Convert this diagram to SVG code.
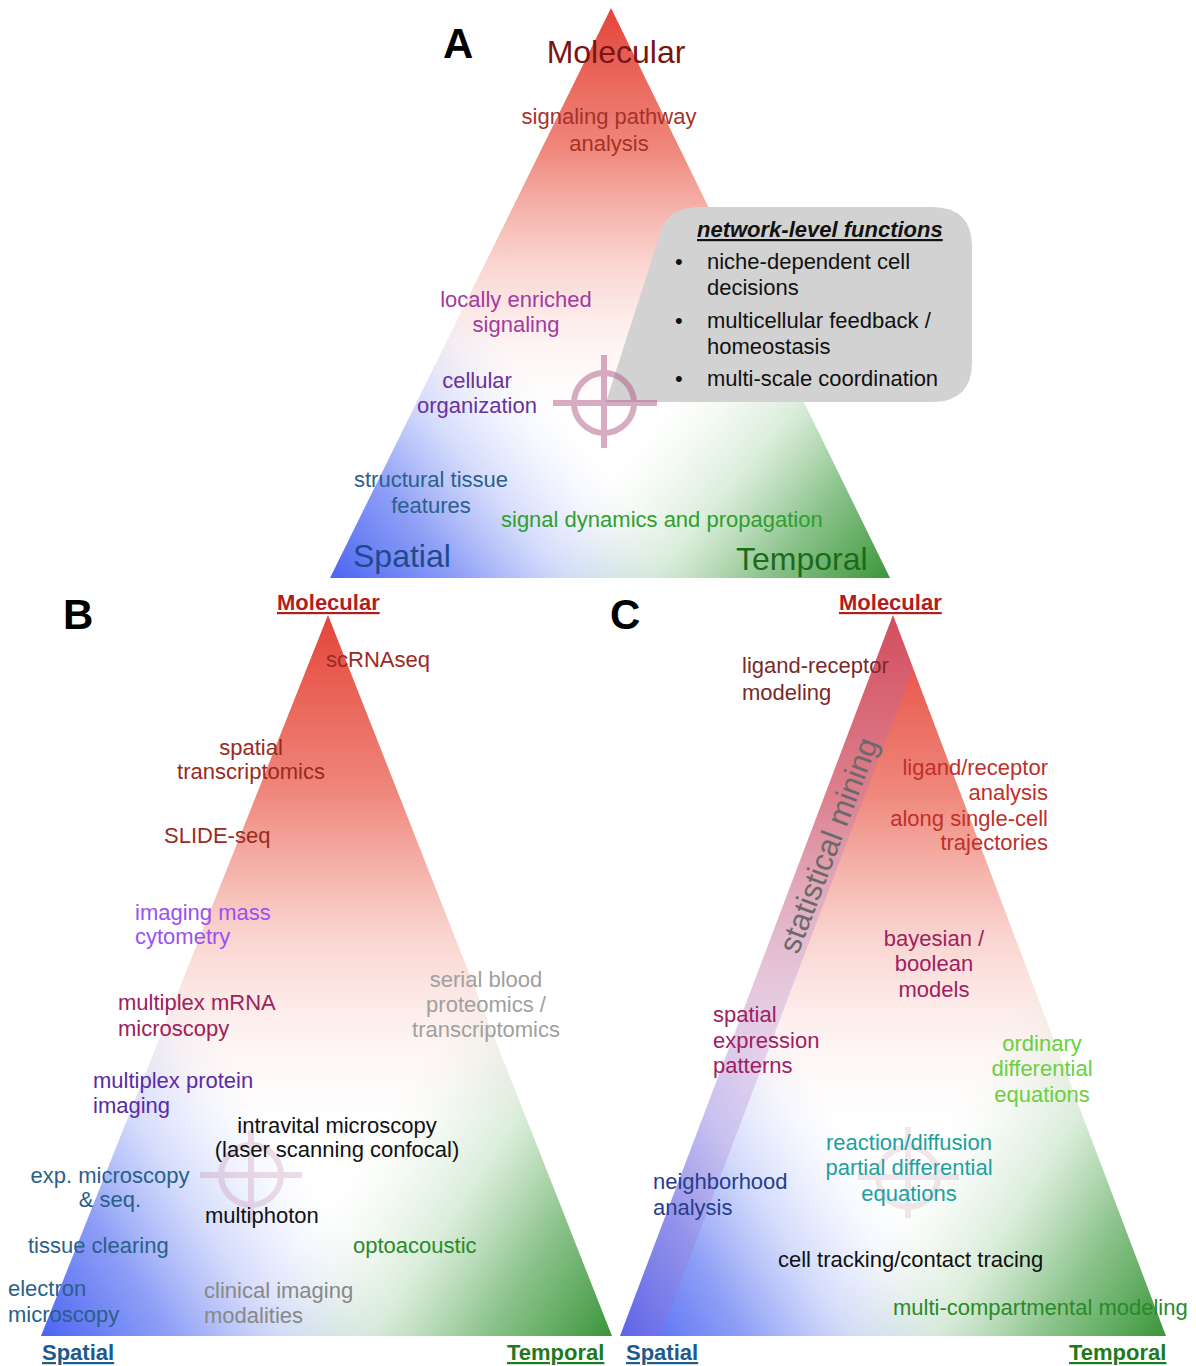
<svg xmlns="http://www.w3.org/2000/svg" width="1196" height="1366" viewBox="0 0 1196 1366">
<defs>
<linearGradient id="gRed" x1="0" y1="0" x2="0" y2="1">
<stop offset="0" stop-color="#e5443a" stop-opacity="1"/>
<stop offset="0.25" stop-color="#e8503f" stop-opacity="0.68"/>
<stop offset="0.45" stop-color="#ec6a5a" stop-opacity="0.28"/>
<stop offset="0.6" stop-color="#f08a7a" stop-opacity="0.08"/>
<stop offset="0.7" stop-color="#f08a7a" stop-opacity="0"/>
</linearGradient>
<linearGradient id="gBlue" x1="0" y1="1" x2="0.45" y2="0.62">
<stop offset="0" stop-color="#4a63f2" stop-opacity="1"/>
<stop offset="0.3" stop-color="#5a72f2" stop-opacity="0.68"/>
<stop offset="0.55" stop-color="#7088f4" stop-opacity="0.28"/>
<stop offset="0.75" stop-color="#8098f4" stop-opacity="0.06"/>
<stop offset="0.85" stop-color="#8098f4" stop-opacity="0"/>
</linearGradient>
<linearGradient id="gGreen" x1="1" y1="1" x2="0.55" y2="0.62">
<stop offset="0" stop-color="#3a953a" stop-opacity="1"/>
<stop offset="0.3" stop-color="#48a048" stop-opacity="0.62"/>
<stop offset="0.55" stop-color="#60b060" stop-opacity="0.22"/>
<stop offset="0.75" stop-color="#70b870" stop-opacity="0.05"/>
<stop offset="0.85" stop-color="#70b870" stop-opacity="0"/>
</linearGradient>
<style>
text{font-family:"Liberation Sans",Arial,Helvetica,sans-serif;font-size:22px}
.big{font-size:32px}
.panel{font-size:42px;font-weight:bold;fill:#000}
.ax{font-weight:bold;text-decoration:underline}
.mid{text-anchor:middle}
.end{text-anchor:end}
.cross{fill:none;stroke:#b05a85}
</style>
</defs>
<rect width="1196" height="1366" fill="#ffffff"/>

<!-- Panel A -->
<g id="triangleA">
<polygon points="611,8 330,578 890,578" fill="#ffffff"/>
<polygon points="611,8 330,578 890,578" fill="url(#gRed)"/>
<polygon points="611,8 330,578 890,578" fill="url(#gBlue)"/>
<polygon points="611,8 330,578 890,578" fill="url(#gGreen)"/>
</g>
<g id="labelA"><text class="panel" x="443" y="58">A</text></g>
<g id="A-molecular"><text class="big mid" x="616" y="63" fill="#7b1414">Molecular</text></g>
<g id="A-spatial"><text class="big" x="353" y="567" fill="#1c4c8c">Spatial</text></g>
<g id="A-temporal"><text class="big" x="736" y="570" fill="#1c6a1c">Temporal</text></g>
<g id="A-signaling-pathway"><text class="mid" fill="#a63228"><tspan x="609" y="124">signaling pathway</tspan><tspan x="609" y="151">analysis</tspan></text></g>
<g id="A-locally-enriched"><text class="mid" fill="#a43aa0"><tspan x="516" y="307">locally enriched</tspan><tspan x="516" y="332">signaling</tspan></text></g>
<g id="A-cellular-organization"><text class="mid" fill="#6a30a0"><tspan x="477" y="388">cellular</tspan><tspan x="477" y="413">organization</tspan></text></g>
<g id="A-structural-tissue"><text class="mid" fill="#2c5f8c"><tspan x="431" y="487">structural tissue</tspan><tspan x="431" y="513">features</tspan></text></g>
<g id="A-signal-dynamics"><text x="501" y="527" fill="#2ea02e">signal dynamics and propagation</text></g>
<g id="A-network-box">
<path d="M702,207 L932,207 Q972,207 972,247 L972,362 Q972,402 932,402 L606,402 L662,228 Q670,207 702,207 Z" fill="#d2d2d2"/>
<text x="697" y="237" fill="#111" style="font-weight:bold;font-style:italic;text-decoration:underline">network-level functions</text>
<text x="675" y="269" fill="#111">•</text>
<text x="707" y="269" fill="#111">niche-dependent cell</text>
<text x="707" y="295" fill="#111">decisions</text>
<text x="675" y="328" fill="#111">•</text>
<text x="707" y="328" fill="#111">multicellular feedback /</text>
<text x="707" y="354" fill="#111">homeostasis</text>
<text x="675" y="386" fill="#111">•</text>
<text x="707" y="386" fill="#111">multi-scale coordination</text>
</g>
<g id="A-crosshair" opacity="0.5">
<circle class="cross" cx="604" cy="403" r="30" stroke-width="6"/>
<line class="cross" x1="553" y1="403" x2="657" y2="403" stroke-width="6"/>
<line class="cross" x1="604" y1="355" x2="604" y2="448" stroke-width="6"/>
</g>

<!-- Panel B -->
<g id="triangleB">
<polygon points="328,615 41,1336 612,1336" fill="#ffffff"/>
<polygon points="328,615 41,1336 612,1336" fill="url(#gRed)"/>
<polygon points="328,615 41,1336 612,1336" fill="url(#gBlue)"/>
<polygon points="328,615 41,1336 612,1336" fill="url(#gGreen)"/>
</g>
<g id="labelB"><text class="panel" x="63" y="629">B</text></g>
<g id="B-molecular"><text class="ax" x="277" y="610" fill="#b01e1e">Molecular</text></g>
<g id="B-spatial"><text class="ax" x="42" y="1360" fill="#1e5a8a">Spatial</text></g>
<g id="B-temporal"><text class="ax" x="507" y="1360" fill="#1e7a1e">Temporal</text></g>
<g id="B-crosshair" opacity="0.2">
<circle class="cross" cx="251" cy="1175" r="30" stroke-width="6"/>
<line class="cross" x1="200" y1="1175" x2="302" y2="1175" stroke-width="6"/>
<line class="cross" x1="251" y1="1130" x2="251" y2="1222" stroke-width="6"/>
</g>
<g id="B-scRNAseq"><text x="326" y="667" fill="#9a2a22">scRNAseq</text></g>
<g id="B-spatial-transcriptomics"><text class="mid" fill="#9a2a22"><tspan x="251" y="755">spatial</tspan><tspan x="251" y="779">transcriptomics</tspan></text></g>
<g id="B-slide-seq"><text x="164" y="843" fill="#9a2a22">SLIDE-seq</text></g>
<g id="B-imaging-mass"><text fill="#9b50f0"><tspan x="135" y="920">imaging mass</tspan><tspan x="135" y="944">cytometry</tspan></text></g>
<g id="B-multiplex-mrna"><text fill="#a0205a"><tspan x="118" y="1010">multiplex mRNA</tspan><tspan x="118" y="1036">microscopy</tspan></text></g>
<g id="B-serial-blood"><text class="mid" fill="#a0a0a0"><tspan x="486" y="987">serial blood</tspan><tspan x="486" y="1012">proteomics /</tspan><tspan x="486" y="1037">transcriptomics</tspan></text></g>
<g id="B-multiplex-protein"><text fill="#5a2aa8"><tspan x="93" y="1088">multiplex protein</tspan><tspan x="93" y="1113">imaging</tspan></text></g>
<g id="B-intravital"><text class="mid" fill="#111"><tspan x="337" y="1133">intravital microscopy</tspan><tspan x="337" y="1157">(laser scanning confocal)</tspan></text></g>
<g id="B-exp-microscopy"><text class="mid" fill="#2a5f8a"><tspan x="110" y="1183">exp. microscopy</tspan><tspan x="110" y="1207">&amp; seq.</tspan></text></g>
<g id="B-multiphoton"><text x="205" y="1223" fill="#111">multiphoton</text></g>
<g id="B-tissue-clearing"><text x="28" y="1253" fill="#2a5f8a">tissue clearing</text></g>
<g id="B-optoacoustic"><text x="353" y="1253" fill="#2a8a2a">optoacoustic</text></g>
<g id="B-electron"><text fill="#2a5f8a"><tspan x="8" y="1296">electron</tspan><tspan x="8" y="1322">microscopy</tspan></text></g>
<g id="B-clinical"><text fill="#888888"><tspan x="204" y="1298">clinical imaging</tspan><tspan x="204" y="1323">modalities</tspan></text></g>

<!-- Panel C -->
<g id="triangleC">
<polygon points="893,615 620,1336 1166,1336" fill="#ffffff"/>
<polygon points="893,615 620,1336 1166,1336" fill="url(#gRed)"/>
<polygon points="893,615 620,1336 1166,1336" fill="url(#gBlue)"/>
<polygon points="893,615 620,1336 1166,1336" fill="url(#gGreen)"/>
</g>
<g id="C-statistical-mining">
<polygon points="893,615 620,1336 660,1336 913,668" fill="#a068c8" fill-opacity="0.24"/>
<text class="mid" x="828" y="856" transform="rotate(-69.3 828 845)" fill="#6a6a6a" style="font-size:31px">statistical mining</text>
</g>
<g id="labelC"><text class="panel" x="610" y="629">C</text></g>
<g id="C-molecular"><text class="ax" x="839" y="610" fill="#b01e1e">Molecular</text></g>
<g id="C-spatial"><text class="ax" x="626" y="1360" fill="#1e5a8a">Spatial</text></g>
<g id="C-temporal"><text class="ax" x="1069" y="1360" fill="#1e7a1e">Temporal</text></g>
<g id="C-crosshair" opacity="0.15">
<circle class="cross" cx="908" cy="1177" r="30" stroke-width="6"/>
<line class="cross" x1="858" y1="1177" x2="959" y2="1177" stroke-width="6"/>
<line class="cross" x1="908" y1="1127" x2="908" y2="1218" stroke-width="6"/>
</g>
<g id="C-ligand-receptor-modeling"><text fill="#7a2a2a"><tspan x="742" y="673">ligand-receptor</tspan><tspan x="742" y="700">modeling</tspan></text></g>
<g id="C-ligand-receptor-analysis"><text class="end" fill="#c0302a"><tspan x="1048" y="775">ligand/receptor</tspan><tspan x="1048" y="800">analysis</tspan><tspan x="1048" y="826">along single-cell</tspan><tspan x="1048" y="850">trajectories</tspan></text></g>
<g id="C-bayesian"><text class="mid" fill="#a02060"><tspan x="934" y="946">bayesian /</tspan><tspan x="934" y="971">boolean</tspan><tspan x="934" y="997">models</tspan></text></g>
<g id="C-spatial-expression"><text fill="#a02060"><tspan x="713" y="1022">spatial</tspan><tspan x="713" y="1048">expression</tspan><tspan x="713" y="1073">patterns</tspan></text></g>
<g id="C-ode"><text class="mid" fill="#6ad040"><tspan x="1042" y="1051">ordinary</tspan><tspan x="1042" y="1076">differential</tspan><tspan x="1042" y="1102">equations</tspan></text></g>
<g id="C-pde"><text class="mid" fill="#20a0a0"><tspan x="909" y="1150">reaction/diffusion</tspan><tspan x="909" y="1175">partial differential</tspan><tspan x="909" y="1201">equations</tspan></text></g>
<g id="C-neighborhood"><text fill="#283c8c"><tspan x="653" y="1189">neighborhood</tspan><tspan x="653" y="1215">analysis</tspan></text></g>
<g id="C-cell-tracking"><text x="778" y="1267" fill="#111">cell tracking/contact tracing</text></g>
<g id="C-multi-compartmental"><text x="893" y="1315" fill="#2a8a2a">multi-compartmental modeling</text></g>
<g id="connectors"/>
</svg>
